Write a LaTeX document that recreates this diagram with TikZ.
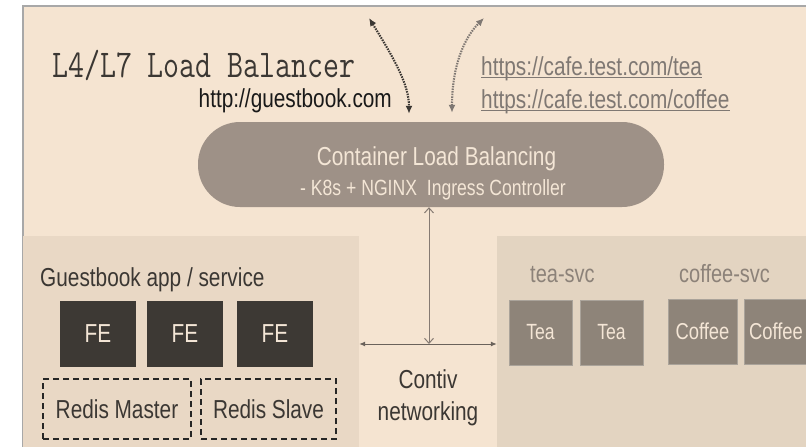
\documentclass[tikz,border=0pt]{standalone}
\usepackage{fontspec}
\setmainfont{Liberation Sans}[FakeStretch=0.8]
\usepackage{xcolor}
\usepackage{tikz}
\usetikzlibrary{arrows.meta}

\definecolor{sandbg}{HTML}{F5E4D1}
\definecolor{frameline}{HTML}{A8A8A8}
\definecolor{guestfill}{HTML}{E9D8C5}
\definecolor{cafefill}{HTML}{E3D4C1}
\definecolor{lbfill}{HTML}{9E9187}
\definecolor{creamtext}{HTML}{F4E6D6}
\definecolor{fefill}{HTML}{3D3934}
\definecolor{cupfill}{HTML}{8E8479}
\definecolor{darktext}{HTML}{3B3733}
\definecolor{urlgray}{HTML}{7F7873}
\definecolor{svcgray}{HTML}{8C8279}
\definecolor{wire}{HTML}{857A72}

\tikzset{
    txt/.style={inner sep=0pt, font=\fontsize{26}{30}\selectfont},
    febox/.style={fill=fefill, text=creamtext, minimum width=76pt, minimum height=66pt, inner sep=0pt, font=\fontsize{26}{30}\selectfont},
    cupbox/.style={fill=cupfill, draw=cupfill!75!white, line width=0.8pt, text=creamtext, minimum height=65pt, inner sep=0pt, font=\fontsize{22}{26}\selectfont},
    redisbox/.style={draw=black!85, line width=1.4pt, dash pattern=on 6pt off 4pt, minimum height=60pt, inner sep=0pt, text=darktext, font=\fontsize{26}{30}\selectfont},
    dotarrow/.style={line width=2.1pt, dash pattern=on 1.5pt off 1.1pt, {Latex[length=8pt,width=7pt]}-{Latex[length=8pt,width=7pt]}}
}

\begin{document}
\begin{tikzpicture}[x=1pt, y=-1pt]
    \useasboundingbox (0,0) rectangle (806,447);
    \clip (0,0) rectangle (806,447);

    % Background and frame
    \fill[sandbg] (23,6) rectangle (806,447);
    \draw[frameline, line width=1.5pt] (23,447) -- (23,6) -- (806,6);

    % Panels
    \node[fill=guestfill, minimum width=336pt, minimum height=211pt, inner sep=0pt] (gbpanel) at (191,341.5) {};
    \node[fill=cafefill, minimum width=309pt, minimum height=211pt, inner sep=0pt] (cafepanel) at (651.5,341.5) {};

    % Title and hosts
    \node[anchor=base west, inner sep=0pt, text=darktext] (title) at (52,77) {\scalebox{1}[1.27]{\ttfamily\fontsize{31}{31}\selectfont L4/L7 Load Balancer}};
    \node[txt, anchor=base east, text=black!90] (gburl) at (392,107) {http://guestbook.com};
    \node[txt, anchor=base west, text=urlgray] (teaurl) at (481,75) {https://cafe.test.com/tea};
    \node[txt, anchor=base west, text=urlgray] (coffeeurl) at (481,108) {https://cafe.test.com/coffee};
    \draw[urlgray, line width=1pt] ([yshift=-2.5pt]teaurl.base west) -- ([yshift=-2.5pt]teaurl.base east);
    \draw[urlgray, line width=1pt] ([yshift=-2.5pt]coffeeurl.base west) -- ([yshift=-2.5pt]coffeeurl.base east);

    % Load balancer
    \node[fill=lbfill, rounded corners=42pt, minimum width=466pt, minimum height=85pt, inner sep=0pt] (lb) at (431,164.5) {};
    \node[txt, anchor=base, text=creamtext] (lbtitle) at (436.5,165) {Container Load Balancing};
    \node[txt, anchor=base, text=creamtext, font=\fontsize{22}{26}\selectfont] (lbsub) at (433,195) {- K8s + NGINX\ \ Ingress Controller};

    % Clients
    \coordinate (guestclient) at (369,18);
    \coordinate (cafeclient) at (484,18);
    \draw[dotarrow, draw=darktext] (guestclient) .. controls (395,60) and (409,85) .. ([xshift=-22pt,yshift=8pt]lb.north);
    \draw[dotarrow, draw=urlgray] ([xshift=21pt,yshift=9pt]lb.north) .. controls (452,70) and (462,40) .. (cafeclient);

    % Guestbook app
    \node[txt, anchor=base west, text=darktext] (gblabel) at (40,286) {Guestbook app / service};
    \node[febox] (fe1) at (98,334) {FE};
    \node[febox] (fe2) at (185,334) {FE};
    \node[febox] (fe3) at (275,334) {FE};
    \node[redisbox, minimum width=148pt] (redismaster) at (117,409) {Redis Master};
    \node[redisbox, minimum width=135pt] (redisslave) at (268.5,409) {Redis Slave};

    % Cafe app
    \node[txt, anchor=base west, text=svcgray, font=\fontsize{25}{30}\selectfont] (teasvc) at (530,282) {tea-svc};
    \node[txt, anchor=base west, text=svcgray, font=\fontsize{25}{30}\selectfont] (coffeesvc) at (679,282) {coffee-svc};
    \node[cupbox, minimum width=63pt] (tea1) at (540.5,332.5) {Tea};
    \node[cupbox, minimum width=63pt] (tea2) at (611.5,332.5) {Tea};
    \node[cupbox, minimum width=69pt, font=\fontsize{23}{26}\selectfont] (coffee1) at (702.5,331.5) {Coffee};
    \node[cupbox, minimum width=64pt, font=\fontsize{23}{26}\selectfont] (coffee2) at (776,331.5) {Coffee};

    % Networking
    \coordinate (net) at (429,344);
    \draw[wire, line width=1pt, {Straight Barb[length=5pt,width=9pt]}-{Straight Barb[length=5pt,width=9pt]}] (net |- lb.south) -- (net);
    \draw[wire!80!black, line width=1pt, {Latex[length=6pt,width=5pt]}-{Latex[length=6pt,width=5pt]}] (gbpanel.east |- net) -- (cafepanel.west |- net);
    \node[txt, align=center, anchor=north, text=darktext, font=\fontsize{26}{32}\selectfont] (contiv) at (428,369) {Contiv\\networking};
\end{tikzpicture}
\end{document}
